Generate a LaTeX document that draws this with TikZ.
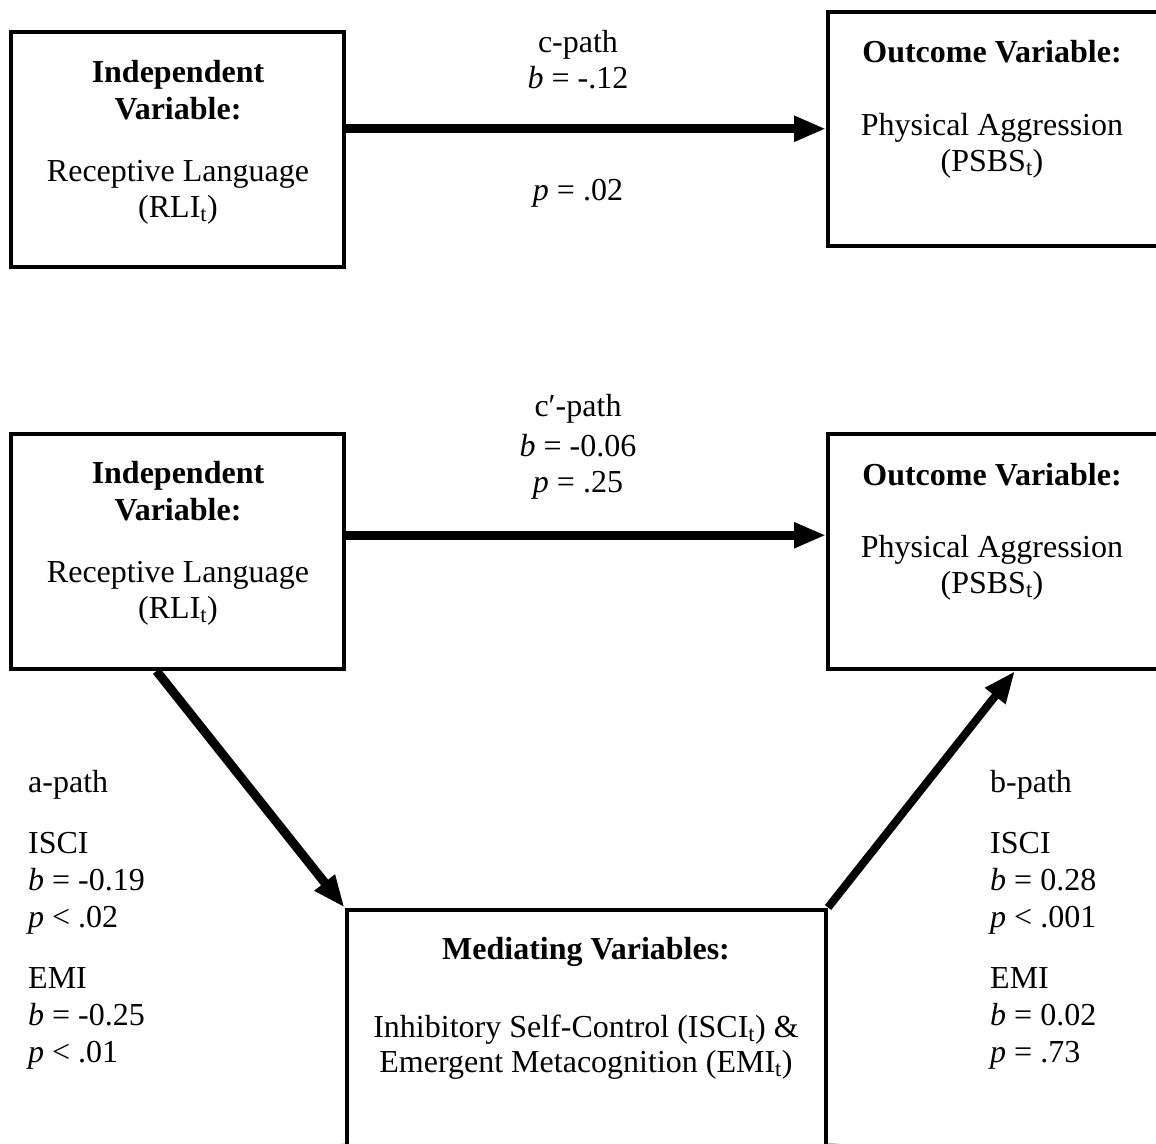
\documentclass[tikz,border=0pt]{standalone}
\usepackage{fontspec}
\setmainfont{Liberation Serif}
\usetikzlibrary{arrows.meta,calc}
\pgfdeclarelayer{bg}
\pgfsetlayers{bg,main}
\tikzset{
  box/.style={draw=black, line width=4pt, fill=white, rectangle, inner sep=0pt},
  lbl/.style={anchor=base, inner sep=0pt, font=\fontsize{32}{36}\selectfont},
  hd/.style={anchor=base, inner sep=0pt, font=\fontsize{32}{36}\selectfont\bfseries},
  lft/.style={anchor=base west, inner sep=0pt, font=\fontsize{32}{36}\selectfont},
  arr/.style={line width=9pt, -{Triangle[length=32pt,width=24pt]}},
  arrshadow/.style={line width=10pt, draw=black, opacity=0.12, -{Triangle[length=32pt,width=24pt]},
    transform canvas={shift={(2pt,-6pt)}}},
}
\newcommand\myboxshadow[1]{%
  \foreach \i in {1,...,8} {
    \fill[black, opacity=0.04, rounded corners=\i*1pt]
      ([shift={(4pt-\i*1pt,-6pt+\i*1pt)}]#1.north west) rectangle
      ([shift={(4pt+\i*1pt,-6pt-\i*1pt)}]#1.south east);
  }}
\begin{document}
\begin{tikzpicture}[x=1pt,y=-1pt]
\useasboundingbox (0,0) rectangle (1156,1143);
\clip (0,0) rectangle (1156,1143);
\fill[white] (0,0) rectangle (1156,1143);

% boxes
\node[box, minimum width=333pt, minimum height=235pt] (iv1) at (177.5,149.5) {};
\node[box, minimum width=342pt, minimum height=234.5pt] (dv1) at (999,128.75) {};
\node[box, minimum width=333pt, minimum height=235.5pt] (iv2) at (177.5,551.25) {};
\node[box, minimum width=342pt, minimum height=235.5pt] (dv2) at (999,551.25) {};
\node[box, minimum width=479.5pt, minimum height=261pt] (med) at (586.25,1040) {};

\begin{pgfonlayer}{bg}
  \myboxshadow{iv1}
  \myboxshadow{dv1}
  \myboxshadow{iv2}
  \myboxshadow{dv2}
  \myboxshadow{med}
  \draw[arrshadow] (iv1.east |- dv1.west) -- (dv1.west);
  \draw[arrshadow] ([yshift=16pt]iv2.east) -- ([yshift=16pt]dv2.west);
  \draw[arrshadow] ([xshift=-21pt]iv2.south) -- (med.north west);
  \draw[arrshadow] (med.north east) -- ([xshift=16pt]dv2.south);
\end{pgfonlayer}

% box texts, top row
\node[hd]  (iv1a) at (178,82)  {Independent};
\node[hd]  (iv1b) at (178,119) {Variable:};
\node[lbl] (iv1c) at (178,181) {Receptive Language};
\node[lbl] (iv1d) at (178,217) {(RLI\textsubscript{t})};

\node[hd]  (dv1a) at (992,62)  {Outcome Variable:};
\node[lbl] (dv1b) at (992,135) {Physical Aggression};
\node[lbl] (dv1c) at (992,171) {(PSBS\textsubscript{t})};

% box texts, bottom diagram
\node[hd]  (iv2a) at (178,483) {Independent};
\node[hd]  (iv2b) at (178,520) {Variable:};
\node[lbl] (iv2c) at (178,582) {Receptive Language};
\node[lbl] (iv2d) at (178,618) {(RLI\textsubscript{t})};

\node[hd]  (dv2a) at (992,485) {Outcome Variable:};
\node[lbl] (dv2b) at (992,557) {Physical Aggression};
\node[lbl] (dv2c) at (992,593) {(PSBS\textsubscript{t})};

\node[hd]  (meda) at (586,959)  {Mediating Variables:};
\node[lbl] (medb) at (586,1037) {Inhibitory Self-Control (ISCI\textsubscript{t}) \&};
\node[lbl] (medc) at (586,1072) {Emergent Metacognition (EMI\textsubscript{t})};

% path labels
\node[lbl] (c1) at (578,52)  {c-path};
\node[lbl] (c2) at (578,88)  {\textit{b} = -.12};
\node[lbl] (c3) at (578,200) {\textit{p} = .02};

\node[lbl] (cp1) at (578,416) {c′-path};
\node[lbl] (cp2) at (578,456) {\textit{b} = -0.06};
\node[lbl] (cp3) at (578,492) {\textit{p} = .25};

\node[lft] (a1) at (28,792)  {a-path};
\node[lft] (a2) at (28,853)  {ISCI};
\node[lft] (a3) at (28,890)  {\textit{b} = -0.19};
\node[lft] (a4) at (28,927)  {\textit{p} < .02};
\node[lft] (a5) at (28,988)  {EMI};
\node[lft] (a6) at (28,1025) {\textit{b} = -0.25};
\node[lft] (a7) at (28,1062) {\textit{p} < .01};

\node[lft] (b1) at (990,792)  {b-path};
\node[lft] (b2) at (990,853)  {ISCI};
\node[lft] (b3) at (990,890)  {\textit{b} = 0.28};
\node[lft] (b4) at (990,927)  {\textit{p} < .001};
\node[lft] (b5) at (990,988)  {EMI};
\node[lft] (b6) at (990,1025) {\textit{b} = 0.02};
\node[lft] (b7) at (990,1062) {\textit{p} = .73};

% arrows
\draw[arr] (iv1.east |- dv1.west) -- (dv1.west);
\draw[arr] ([yshift=16pt]iv2.east) -- ([yshift=16pt]dv2.west);
\draw[arr] ([xshift=-21pt]iv2.south) -- (med.north west);
\draw[arr, line width=8pt] (med.north east) -- ([xshift=16pt]dv2.south);
\end{tikzpicture}
\end{document}
